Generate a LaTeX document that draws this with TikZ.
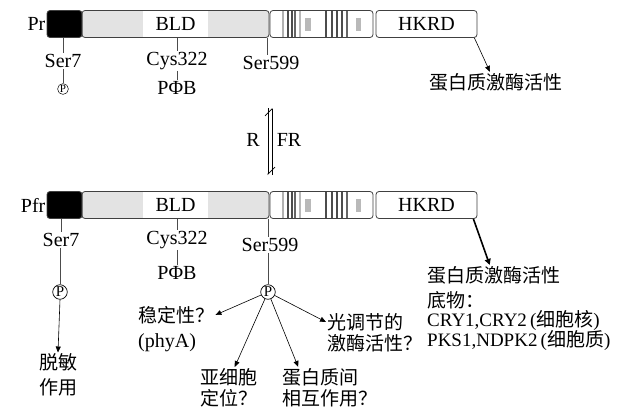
\documentclass[tikz,border=0pt]{standalone}
\usepackage{fontspec}
\setmainfont{Liberation Serif}
\newfontfamily\cjk{Noto Sans CJK SC}
\usetikzlibrary{positioning, arrows.meta}

\begin{document}
\begin{tikzpicture}[
  x=1pt, y=-1pt,
  font=\fontsize{20}{24}\selectfont,
  seg/.style={draw=black!75, line width=0.8pt, rounded corners=3pt,
              minimum height=27pt, inner sep=0pt},
  site/.style={inner sep=1pt},
  tick/.style={draw=black!70, line width=0.7pt},
  arr/.style={draw, line width=0.6pt, -{Triangle[length=6pt,width=5pt]}},
  phos/.style={circle, draw, line width=0.7pt, inner sep=0.6pt,
               font=\fontsize{15}{15}\selectfont},
  phossm/.style={circle, draw, line width=0.5pt, inner sep=0.5pt,
                 font=\fontsize{11}{11}\selectfont},
  zh/.style={font=\fontsize{19}{22}\selectfont\cjk, inner sep=1pt},
]
  \useasboundingbox (0,0) rectangle (626,410);

  % Two phytochrome bars: t = Pr (top), b = Pfr (bottom)
  \foreach \r/\y in {t/24, b/205} {
    % BLD background: light grey with a white middle part
    \fill[gray!22, rounded corners=3pt] (82,\y-13.5) rectangle (269,\y+13.5);
    \fill[white] (143,\y-13) rectangle (208,\y+13);
    \node[seg, fill=black, minimum width=35pt] (blk\r) at (64.5,\y) {};
    \node[seg, minimum width=187pt] (bld\r) at (175.5,\y) {BLD};
    \node[seg, fill=white, minimum width=103pt] (str\r) at (321.5,\y) {};
    \node[seg, fill=white, minimum width=101pt] (hk\r) at (426.5,\y) {HKRD};
    % stripes of the PRD region
    \foreach \s/\c in {283/gray!60, 288/black!70, 292/black!70, 295/black!60,
                       300/gray!55, 326/black!70, 332/black!70, 337/black!70,
                       342/black!70, 347/black!60}
      \draw[\c, line width=1.3pt] (\s,\y-13) -- (\s,\y+13);
    \fill[gray!55] (305,\y-6) rectangle (311,\y+7);
    \fill[gray!55] (356,\y-6) rectangle (361,\y+7);
  }

  % Pr form
  \node[site, anchor=east] (prlab) at (blkt.west) {Pr};
  \node[site] (s7t) at (63,61) {Ser7};
  \draw[tick] (s7t.north |- blkt.south) -- (s7t.north);
  \node[phossm] (p7t) at (63,89) {P};
  \draw[tick] (s7t.south) -- (p7t.north);
  \node[site] (c3t) at (177,61) {Cys322};
  \draw[tick] (c3t.north |- bldt.south) -- (c3t.north);
  \node[site] (pfbt) at (177,88) {PΦB};
  \draw[tick] (c3t.south) -- (pfbt.north);
  \node[site] (s5t) at (271,63) {Ser599};
  \draw[tick] ([xshift=-2pt]bldt.south east) -- ([xshift=-2pt]bldt.south east |- s5t.north);
  \node[zh] (kint) at (496,82) {蛋白质激酶活性};
  \draw[arr] ([xshift=-3pt]hkt.south east) -- ([xshift=-6pt]kint.north);

  % R / FR photoconversion
  \coordinate (rtop) at (268,108);
  \coordinate (rbot) at (268,175);
  \draw[line width=0.7pt, -{Straight Barb[left, length=7pt]}] (rtop) -- (rbot);
  \draw[line width=0.7pt, -{Straight Barb[left, length=7pt]}] ([xshift=4pt]rbot) -- ([xshift=4pt]rtop);
  \node[site] (rlab) at (253,140) {R};
  \node[site] (frlab) at (289,140) {FR};

  % Pfr form
  \node[site, anchor=east] (pfrlab) at (blkb.west) {Pfr};
  \node[site] (s7b) at (61,240) {Ser7};
  \draw[tick] (s7b.north |- blkb.south) -- (s7b.north);
  \node[phos] (p7b) at (60,292) {P};
  \draw[tick] (p7b.north |- s7b.south) -- (p7b.north);
  \node[zh, align=center, font=\fontsize{19}{25}\selectfont\cjk] (desen) at (58,375) {脱敏\\作用};
  \draw[arr] (p7b.south) -- (desen.north);

  \node[site] (c3b) at (177,240) {Cys322};
  \draw[tick] (c3b.north |- bldb.south) -- (c3b.north);
  \node[site] (pfbb) at (177,273) {PΦB};
  \draw[tick] (c3b.south) -- (pfbb.north);

  \node[site] (s5b) at (270,245) {Ser599};
  \node[phos] (p5b) at (268,292) {P};
  \draw[tick] (p5b.north |- bldb.south) -- (p5b.north |- s5b.north);
  \draw[tick] (p5b.north |- s5b.south) -- (p5b.north);

  % possible roles of Ser599 phosphorylation
  \node[zh, anchor=west] (stab) at (137,315) {稳定性？};
  \node[site, anchor=west] (phya) at (137,343) {(phyA)};
  \node[zh, anchor=west] (sub1) at (199,377) {亚细胞};
  \node[zh, anchor=west] (sub2) at (199,398) {定位？};
  \node[zh, anchor=west] (ppi1) at (281,377) {蛋白质间};
  \node[zh, anchor=west] (ppi2) at (281,398) {相互作用？};
  \node[zh, anchor=west] (lt1) at (326,322) {光调节的};
  \node[zh, anchor=west] (lt2) at (326,343) {激酶活性？};
  \draw[arr] (p5b) -- (stab.east);
  \draw[arr] (p5b) -- ([xshift=6pt]sub1.north);
  \draw[arr] (p5b) -- ([xshift=-22pt]ppi1.north);
  \draw[arr] (p5b) -- (lt1.west);

  % kinase activity and substrates
  \node[zh, anchor=west] (kinb) at (426,275) {蛋白质激酶活性};
  \node[zh, anchor=west] (subs) at (426,300) {底物：};
  \node[site, anchor=west, font=\fontsize{19}{22}\selectfont] (cry) at (426,320)
    {CRY1,CRY2\,({\cjk 细胞核})};
  \node[site, anchor=west, font=\fontsize{19}{22}\selectfont] (pks) at (426,340)
    {PKS1,NDPK2\,({\cjk 细胞质})};
  \draw[line width=1.6pt, -{Triangle[length=6pt,width=6pt]}]
    ([xshift=-4pt]hkb.south east) -- ([xshift=-4pt]kinb.north);
\end{tikzpicture}
\end{document}
